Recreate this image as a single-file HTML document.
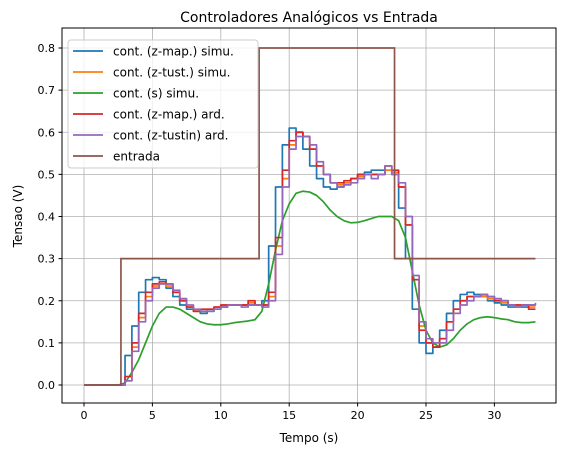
<!DOCTYPE html>
<html><head><meta charset="utf-8"><style>
body{margin:0;background:#fff}
svg{font-family:"DejaVu Sans","Liberation Sans",sans-serif}
</style></head><body>
<svg id="chart" width="567" height="455" xmlns="http://www.w3.org/2000/svg">
<rect width="567" height="455" fill="#fff"/>
<text x="309" y="22" font-size="14" text-anchor="middle">Controladores Analógicos vs Entrada</text>
<g id="grid"></g>
<g id="series"></g>
<rect x="62" y="28" width="494" height="375" fill="none" stroke="#000" stroke-width="1"/>
<g id="axes" font-size="11"></g>
<text x="309" y="442" font-size="12" text-anchor="middle">Tempo (s)</text>
<text x="22" y="216" font-size="12" text-anchor="middle" transform="rotate(-90 22 216)">Tensao (V)</text>
<g id="legend"></g>
</svg>
<script>
const xTicks=[0,5,10,15,20,25,30];
const yTicks=[0.0,0.1,0.2,0.3,0.4,0.5,0.6,0.7,0.8];
const dt=0.5;
const blue=[0,0,0,0,0,0,0.07,0.14,0.22,0.25,0.255,0.25,0.23,0.21,0.19,0.18,0.175,0.17,0.175,0.18,0.185,0.19,0.19,0.19,0.19,0.19,0.2,0.33,0.47,0.57,0.61,0.6,0.56,0.52,0.49,0.47,0.465,0.47,0.48,0.49,0.5,0.505,0.51,0.51,0.51,0.5,0.42,0.3,0.18,0.1,0.075,0.09,0.13,0.17,0.2,0.215,0.22,0.215,0.21,0.2,0.195,0.19,0.185,0.185,0.185,0.19,0.19];
const orange=[0,0,0,0,0,0,0.01,0.09,0.16,0.21,0.235,0.24,0.235,0.22,0.2,0.185,0.175,0.175,0.18,0.185,0.19,0.19,0.19,0.19,0.195,0.19,0.19,0.21,0.33,0.49,0.57,0.6,0.59,0.56,0.52,0.5,0.48,0.475,0.48,0.49,0.495,0.5,0.5,0.5,0.51,0.505,0.47,0.38,0.25,0.14,0.1,0.09,0.11,0.15,0.18,0.2,0.21,0.21,0.21,0.205,0.2,0.195,0.19,0.19,0.19,0.185,0.185];
const green=[0,0,0,0,0,0,0.005,0.03,0.06,0.1,0.14,0.17,0.185,0.185,0.18,0.17,0.16,0.15,0.145,0.143,0.143,0.145,0.148,0.15,0.152,0.155,0.175,0.24,0.32,0.39,0.43,0.455,0.46,0.458,0.45,0.435,0.415,0.4,0.39,0.385,0.386,0.39,0.395,0.4,0.4,0.4,0.39,0.35,0.27,0.19,0.13,0.1,0.09,0.095,0.11,0.13,0.145,0.155,0.16,0.162,0.16,0.157,0.155,0.15,0.148,0.148,0.15];
const red=[0,0,0,0,0,0,0.02,0.1,0.17,0.22,0.24,0.245,0.24,0.22,0.2,0.185,0.175,0.18,0.18,0.185,0.19,0.19,0.19,0.19,0.2,0.19,0.19,0.22,0.35,0.51,0.58,0.6,0.59,0.56,0.52,0.5,0.48,0.48,0.485,0.49,0.5,0.5,0.5,0.5,0.52,0.51,0.47,0.38,0.25,0.13,0.1,0.09,0.11,0.15,0.18,0.2,0.21,0.21,0.215,0.21,0.2,0.2,0.19,0.19,0.19,0.18,0.18];
const purple=[0,0,0,0,0,0,0.01,0.08,0.15,0.2,0.23,0.24,0.24,0.225,0.205,0.19,0.18,0.175,0.175,0.18,0.185,0.19,0.19,0.185,0.19,0.19,0.185,0.2,0.31,0.47,0.56,0.59,0.59,0.57,0.53,0.5,0.48,0.47,0.475,0.48,0.49,0.5,0.49,0.5,0.52,0.5,0.48,0.4,0.26,0.15,0.11,0.1,0.1,0.13,0.17,0.19,0.2,0.21,0.215,0.21,0.205,0.2,0.19,0.185,0.19,0.19,0.195];
const inputT=[0,2.7,12.8,22.7,33];
const inputV=[0,0.3,0.8,0.3,0.3];
const legendLabels=["cont. (z-map.) simu.","cont. (z-tust.) simu.","cont. (s) simu.","cont. (z-map.) ard.","cont. (z-tustin) ard.","entrada"];
const colors=["#1f77b4","#ff7f0e","#2ca02c","#d62728","#9467bd","#8c564b"];

const X=t=>84+13.68*t, Y=v=>385-421.25*v;
const NS="http://www.w3.org/2000/svg";
function mk(tag,attrs,parent){const e=document.createElementNS(NS,tag);for(const k in attrs)e.setAttribute(k,attrs[k]);parent.appendChild(e);return e;}
const grid=document.getElementById('grid'),axes=document.getElementById('axes'),ser=document.getElementById('series'),leg=document.getElementById('legend');
xTicks.forEach(t=>{
 const g=mk('line',{x1:X(t),x2:X(t),y1:28,y2:403,stroke:'#b0b0b0','stroke-width':0.8},grid);
 
 
 mk('line',{x1:X(t),x2:X(t),y1:403,y2:406.5,stroke:'#000'},axes);
 const tx=mk('text',{x:X(t),y:419,'text-anchor':'middle'},axes);tx.textContent=t;
 
 
});
yTicks.forEach(v=>{
 const g=mk('line',{x1:62,x2:556,y1:Y(v),y2:Y(v),stroke:'#b0b0b0','stroke-width':0.8},grid);
 
 
 mk('line',{x1:58.5,x2:62,y1:Y(v),y2:Y(v),stroke:'#000'},axes);
 const tx=mk('text',{x:55,y:Y(v)+4,'text-anchor':'end'},axes);tx.textContent=v.toFixed(1);
 
 
});
function stepPath(vals){let d='';vals.forEach((v,i)=>{const t=i*dt;d+=(i?'L':'M')+X(t)+' '+Y(v)+'L'+X(Math.min(t+dt,33))+' '+Y(v);});return d;}
function smoothPath(vals){return vals.map((v,i)=>(i?'L':'M')+X(i*dt)+' '+Y(v)).join('');}
const specs=[[blue,0,'step','series-z-map-simu'],[orange,1,'step','series-z-tust-simu'],[green,2,'smooth','series-s-simu'],[red,3,'step','series-z-map-ard'],[purple,4,'step','series-z-tustin-ard']];
specs.forEach(s=>{
 const p=mk('path',{d:s[2]=='step'?stepPath(s[0]):smoothPath(s[0]),fill:'none',stroke:colors[s[1]],'stroke-width':1.7,'stroke-linejoin':'round'},ser);
 
 
});
let d='';inputT.forEach((t,i)=>{if(i==0)d='M'+X(t)+' '+Y(inputV[0]);else{d+='L'+X(t)+' '+Y(inputV[i-1])+'L'+X(t)+' '+Y(inputV[i]);}});
const ip=mk('path',{d:d,fill:'none',stroke:colors[5],'stroke-width':1.7},ser);


const box=mk('rect',{x:68,y:40,width:190,height:128,rx:3,fill:'#fff','fill-opacity':0.8,stroke:'#ccc'},leg);


legendLabels.forEach((l,i)=>{
 const y=51+i*21;
 mk('line',{x1:73,x2:103,y1:y,y2:y,stroke:colors[i],'stroke-width':1.7},leg);
 const tx=mk('text',{x:113,y:y+4.5,'font-size':12},leg);tx.textContent=l;
 
 
});
</script>
</body></html>
